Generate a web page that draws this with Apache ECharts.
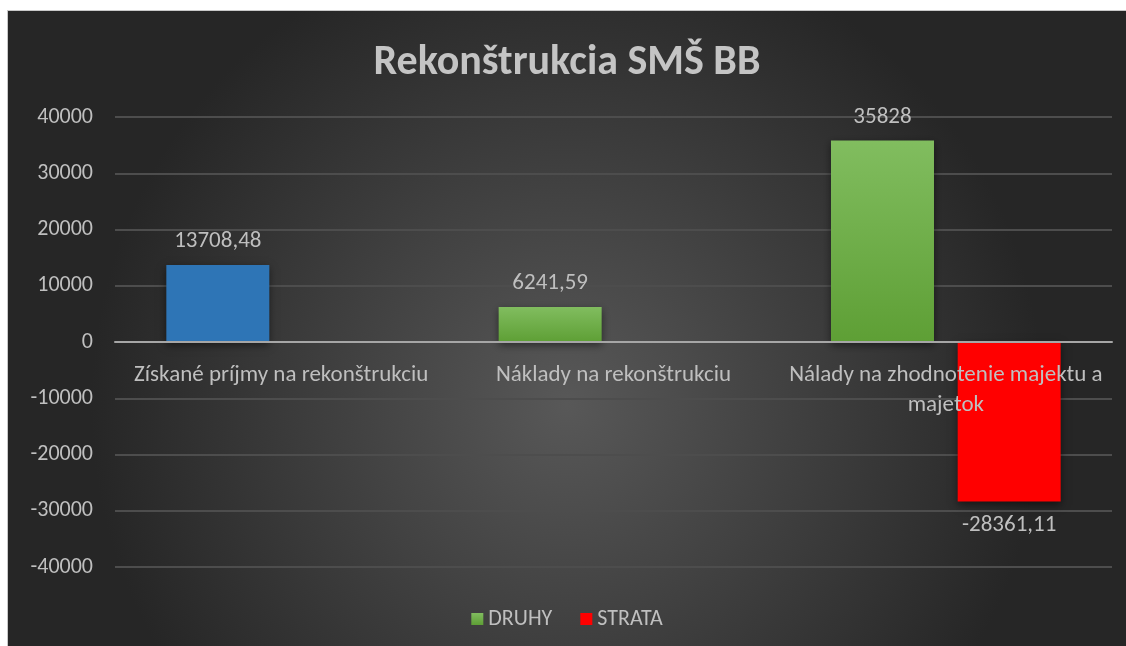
<!DOCTYPE html>
<html>
<head>
<meta charset="utf-8">
<script src="https://cdn.jsdelivr.net/npm/echarts@6/dist/echarts.min.js"></script>
<style>
    html, body { margin: 0; padding: 0; background: #ffffff; }
    #chart {
        position: absolute;
        left: 7px;
        top: 10px;
        width: 1118px;
        height: 635px;
        border-top: 1px solid #c8c8c8;
        border-left: 1px solid #c8c8c8;
    }
</style>
</head>
<body>
<div id="chart"></div>
<script>

var categories = ['Získané príjmy na rekonštrukciu', 'Náklady na rekonštrukciu', 'Nálady na zhodnotenie majektu a majetok'];
var druhy_values = [13708.48, 6241.59, 35828];
var strata_values = [null, null, -28361.11];
var y_ticks = [-40000, -30000, -20000, -10000, 0, 10000, 20000, 30000, 40000];

var label_font = 'Carlito, Lato, sans-serif';
var text_color = '#bfbfbf';

function formatNumber(v) {
    return String(v).replace('.', ',');
}

// simple word wrap, max_chars per line
function wrapText(str, max_chars) {
    var words = str.split(' ');
    var lines = [];
    var line = '';
    for (var i = 0; i < words.length; i++) {
        var test = line === '' ? words[i] : line + ' ' + words[i];
        if (test.length > max_chars && line !== '') {
            lines.push(line);
            line = words[i];
        } else {
            line = test;
        }
    }
    lines.push(line);
    return lines.join('\n');
}

var green_fill = {
    type: 'linear', x: 0, y: 0, x2: 0, y2: 1,
    colorStops: [
        { offset: 0, color: '#81bd5f' },
        { offset: 1, color: '#5e9f35' }
    ]
};

var druhy_data = [];
for (var i = 0; i < druhy_values.length; i++) {
    var item = { value: druhy_values[i] };
    // first bar is drawn in blue in the original
    if (i === 0) item.itemStyle = { color: '#2e75b6' };
    druhy_data.push(item);
}

var chart = echarts.init(document.getElementById('chart'));

// plot area is 450px high, zero sits in the middle -> lift the category axis by 225px
var plot_height = 450;

var option = {
    backgroundColor: {
        type: 'radial', x: 0.5, y: 0.62, r: 0.75,
        colorStops: [
            { offset: 0, color: '#585858' },
            { offset: 1, color: '#262626' }
        ]
    },
    title: {
        text: 'Rekonštrukcia SMŠ BB',
        left: 'center',
        top: 26,
        textStyle: {
            color: '#c4c4c4',
            fontFamily: label_font,
            fontWeight: 'bold',
            fontSize: 42
        }
    },
    legend: {
        bottom: 11,
        left: 'center',
        itemWidth: 12,
        itemHeight: 12,
        itemGap: 28,
        icon: 'rect',
        data: [
            { name: 'DRUHY', itemStyle: { color: green_fill } },
            { name: 'STRATA', itemStyle: { color: '#ff0000' } }
        ],
        textStyle: { color: text_color, fontFamily: label_font, fontSize: 22 }
    },
    grid: { left: 107, right: 14, top: 106, bottom: 79, containLabel: false },
    xAxis: {
        type: 'category',
        data: categories,
        offset: -plot_height / 2,
        z: 5,
        axisLine: { onZero: false, lineStyle: { color: '#a6a6a6', width: 2 } },
        axisTick: { show: false },
        axisLabel: {
            color: text_color,
            fontFamily: label_font,
            fontSize: 23,
            margin: 18,
            lineHeight: 30,
            interval: 0,
            hideOverlap: false,
            formatter: function (v) { return wrapText(v, 31); }
        }
    },
    yAxis: {
        type: 'value',
        min: y_ticks[0],
        max: y_ticks[y_ticks.length - 1],
        interval: 10000,
        axisLine: { show: false },
        axisTick: { show: false },
        splitLine: { lineStyle: { color: '#4d4d4d', width: 2 } },
        axisLabel: {
            color: text_color,
            fontFamily: label_font,
            fontSize: 22,
            margin: 22,
            formatter: function (v) { return String(v); }
        }
    },
    series: [
        {
            name: 'DRUHY',
            type: 'bar',
            data: druhy_data,
            barWidth: 103,
            barGap: '23%',
            z: 3,
            itemStyle: {
                color: green_fill,
                shadowBlur: 8,
                shadowOffsetY: 3,
                shadowColor: 'rgba(0, 0, 0, 0.5)'
            },
            label: {
                show: true,
                position: 'top',
                distance: 12,
                color: text_color,
                fontFamily: label_font,
                fontSize: 23,
                formatter: function (p) { return formatNumber(p.value); }
            }
        },
        {
            name: 'STRATA',
            type: 'bar',
            data: strata_values,
            barWidth: 103,
            z: 1,
            itemStyle: {
                color: '#ff0000',
                shadowBlur: 8,
                shadowOffsetY: 3,
                shadowColor: 'rgba(0, 0, 0, 0.5)'
            },
            label: {
                show: true,
                position: 'bottom',
                distance: 12,
                color: text_color,
                fontFamily: label_font,
                fontSize: 23,
                formatter: function (p) { return formatNumber(p.value); }
            }
        }
    ]
};

chart.setOption(option);

</script>
</body>
</html>
